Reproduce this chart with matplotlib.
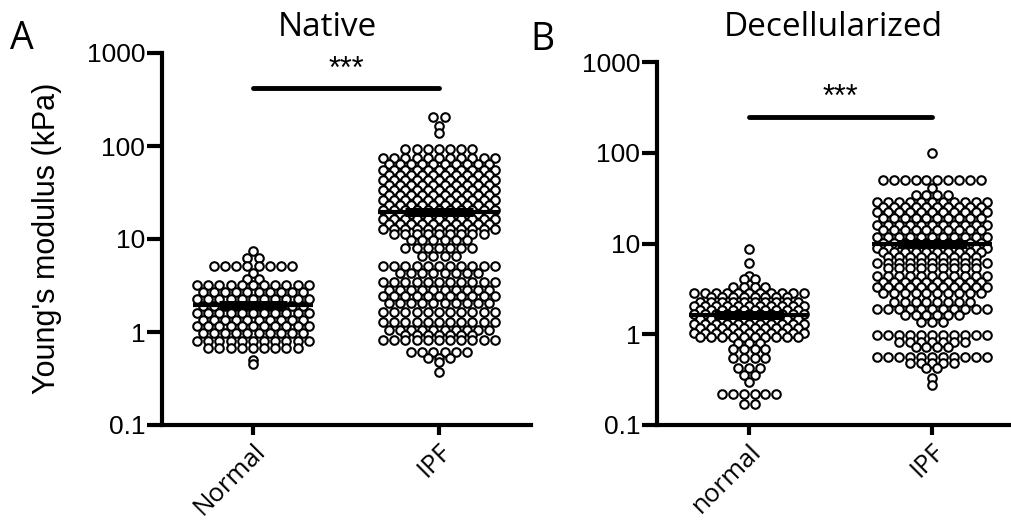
import matplotlib
matplotlib.use("Agg")
import matplotlib.pyplot as plt
from matplotlib.ticker import FixedLocator, NullLocator
import numpy as np

# column scatter rows: value (kPa) and how many points sit in that row
native_normal_vals = [7.4, 6.2, 5.1, 4.3, 3.7, 3.2, 2.7, 2.25, 1.9, 1.6, 1.35, 1.16,
                      0.98, 0.8, 0.68, 0.5, 0.45]
native_normal_cnts = [1, 2, 8, 1, 2, 11, 10, 11, 10, 11, 10, 11, 10, 11, 9, 1, 1]

native_ipf_vals = [205, 164, 138, 93, 74, 64, 55, 48.7, 43, 38, 33.6, 29.7, 26.2, 23.2,
                   20.5, 18.6, 16.4, 14.5, 12.8, 11.3, 9.8, 8.0, 6.6, 5.1, 4.3, 3.45,
                   2.83, 2.44, 2.05, 1.64, 1.28, 1.05, 0.93, 0.82, 0.61, 0.53, 0.48, 0.37]
native_ipf_cnts = [2, 1, 1, 7, 11, 10, 11, 10, 11, 10, 11, 10, 11, 10,
                   11, 10, 11, 10, 11, 9, 6, 7, 4, 11, 8, 11,
                   10, 11, 10, 11, 11, 10, 7, 11, 6, 3, 1, 1]

decell_normal_vals = [8.7, 6.1, 4.4, 4.1, 3.3, 2.85, 2.57, 2.27, 2.05, 1.85, 1.67, 1.47,
                      1.3, 1.17, 1.03, 0.93, 0.8, 0.68, 0.55, 0.42, 0.36, 0.3, 0.22, 0.17]
decell_normal_cnts = [1, 1, 1, 2, 4, 11, 8, 10, 11, 10, 11, 10,
                      11, 10, 11, 10, 3, 4, 4, 3, 2, 1, 6, 2]

decell_ipf_vals = [99, 50, 41, 34, 29, 25, 22.2, 19.1, 16.0, 14.1, 11.8, 10.1, 8.9, 8.1,
                   7.1, 6.1, 5.4, 4.4, 3.8, 3.3, 2.85, 2.26, 1.9, 1.63, 1.36, 0.98, 0.82,
                   0.72, 0.56, 0.48, 0.425, 0.33, 0.276]
decell_ipf_cnts = [1, 10, 1, 4, 11, 10, 11, 10, 11, 10, 11, 10, 11, 10,
                   9, 11, 9, 11, 10, 11, 10, 8, 11, 6, 3, 11, 7,
                   4, 11, 5, 2, 1, 1]

native_groups = ["Normal", "IPF"]
decell_groups = ["normal", "IPF"]
native_center = [1.95, 19.5]     # horizontal line per group
decell_center = [1.65, 10.0]
native_sig_y, native_star_y = 420, 660
decell_sig_y, decell_star_y = 248, 400

STEP = 0.06   # horizontal spacing of points within a row (category units)


def column_scatter(ax, xc, vals, cnts):
    for v, k in zip(vals, cnts):
        off = (np.arange(k) - (k - 1) / 2) * STEP
        ax.scatter(xc + off, np.full(k, v), s=38, facecolors="white",
                   edgecolors="black", linewidths=1.5, zorder=2)


def style(ax, groups, xlim):
    ax.set_yscale("log")
    ax.set_ylim(0.1, 1000)
    ax.set_xlim(*xlim)
    for s in ("top", "right"):
        ax.spines[s].set_visible(False)
    for s in ("left", "bottom"):
        ax.spines[s].set_linewidth(3)
    ax.yaxis.set_major_locator(FixedLocator([0.1, 1, 10, 100, 1000]))
    ax.yaxis.set_minor_locator(NullLocator())
    ax.set_yticklabels(["0.1", "1", "10", "100", "1000"],
                       fontfamily="Liberation Sans", fontsize=19)
    ax.tick_params(axis="y", length=11, width=3, pad=1)
    ax.tick_params(axis="x", length=7, width=3, pad=3)
    ax.set_xticks([0, 1])
    ax.set_xticklabels(groups, rotation=45, ha="right", va="top",
                       rotation_mode="anchor", fontfamily="Open Sans", fontsize=18.5)


def center_lines(ax, centers, half, blob):
    for i, c in enumerate(centers):
        ax.plot([i - half, i + half], [c, c], color="black", lw=3, zorder=3,
                solid_capstyle="butt")
        ax.plot([i - blob, i + blob], [c, c], color="black", lw=6.5, zorder=3,
                solid_capstyle="butt")


fig = plt.figure(figsize=(10.11, 5.22), dpi=100)
axA = fig.add_axes([162 / 1011, 1 - 425 / 522, 369 / 1011, 372 / 522])
axB = fig.add_axes([657 / 1011, 1 - 425 / 522, 354 / 1011, 363 / 522])

column_scatter(axA, 0, native_normal_vals, native_normal_cnts)
column_scatter(axA, 1, native_ipf_vals, native_ipf_cnts)
column_scatter(axB, 0, decell_normal_vals, decell_normal_cnts)
column_scatter(axB, 1, decell_ipf_vals, decell_ipf_cnts)

center_lines(axA, native_center, 0.325, 0.185)
center_lines(axB, decell_center, 0.33, 0.19)

style(axA, native_groups, (-0.489, 1.495))
style(axB, decell_groups, (-0.503, 1.432))

for ax, sy, st in ((axA, native_sig_y, native_star_y), (axB, decell_sig_y, decell_star_y)):
    ax.plot([0, 1], [sy, sy], color="black", lw=3.5, solid_capstyle="round", zorder=3)
    ax.text(0.5, st, "***", ha="center", va="center", fontsize=22,
            fontfamily="Liberation Sans")

fig.text(327 / 1011, 1 - 27 / 522, "Native", ha="center", va="center",
         fontsize=24, fontfamily="Open Sans")
fig.text(833 / 1011, 1 - 27 / 522, "Decellularized", ha="center", va="center",
         fontsize=24, fontfamily="Open Sans")
fig.text(22 / 1011, 1 - 39 / 522, "A", ha="center", va="center",
         fontsize=27, fontfamily="Open Sans")
fig.text(542 / 1011, 1 - 40 / 522, "B", ha="center", va="center",
         fontsize=27, fontfamily="Open Sans")
fig.text(47 / 1011, 1 - 238 / 522, "Young's modulus (kPa)", rotation=90,
         ha="center", va="center", fontsize=22, fontfamily="Liberation Sans")

fig.savefig("out.png", dpi=100)
